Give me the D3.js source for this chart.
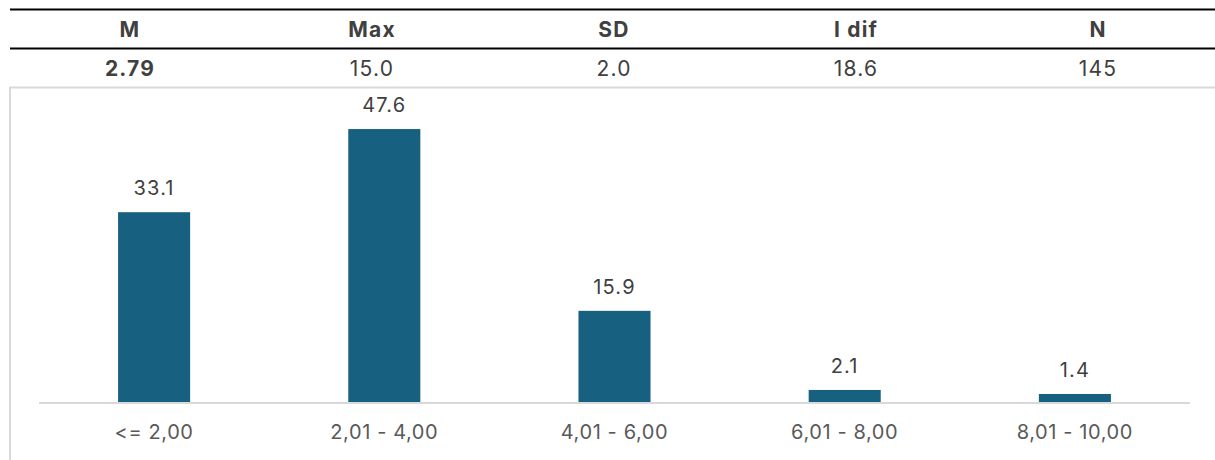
<!DOCTYPE html>
<html>
<head>
<meta charset="utf-8">
<script src="https://cdn.jsdelivr.net/npm/d3@7"></script>
<style>
  html, body { margin: 0; padding: 0; background: #fff; }
  svg { display: block; }
</style>
</head>
<body>
<svg id="chart" width="1215" height="460"></svg>
<script>
const statHeaders = ["M", "Max", "SD", "I dif", "N"];
const statValues = ["2.79", "15.0", "2.0", "18.6", "145"];
const categories = ["<= 2,00", "2,01 - 4,00", "4,01 - 6,00", "6,01 - 8,00", "8,01 - 10,00"];
const values = [33.1, 47.6, 15.9, 2.1, 1.4];

const svg = d3.select("#chart");
const font = "Inter, 'Open Sans', 'Noto Sans', sans-serif";

// Table
const tx = d3.scaleBand().domain(statHeaders).range([9, 1219]);
svg.append("line").attr("x1", 10).attr("x2", 1215).attr("y1", 9.5).attr("y2", 9.5)
  .attr("stroke", "#000").attr("stroke-width", 2);
svg.append("line").attr("x1", 10).attr("x2", 1215).attr("y1", 48.5).attr("y2", 48.5)
  .attr("stroke", "#000").attr("stroke-width", 2);
svg.selectAll("text.hdr").data(statHeaders).join("text")
  .attr("class", "hdr")
  .attr("x", d => tx(d) + tx.bandwidth() / 2)
  .attr("y", 36.5)
  .attr("text-anchor", "middle")
  .attr("font-family", font).attr("font-size", 21).attr("font-weight", 700)
  .attr("letter-spacing", 1.2)
  .attr("fill", "#404040")
  .text(d => d);
svg.selectAll("text.val").data(statValues).join("text")
  .attr("class", "val")
  .attr("x", (d, i) => tx(statHeaders[i]) + tx.bandwidth() / 2)
  .attr("y", 75.5)
  .attr("text-anchor", "middle")
  .attr("font-family", font).attr("font-size", 21)
  .attr("letter-spacing", 1.2)
  .attr("font-weight", (d, i) => i === 0 ? 700 : 400)
  .attr("fill", "#404040")
  .text(d => d);

// Chart frame
svg.append("path").attr("d", "M10,460 V87.5 H1215")
  .attr("fill", "none").attr("stroke", "#d9d9d9").attr("stroke-width", 2);

// Chart
const x = d3.scaleBand().domain(categories).range([39, 1190]).paddingInner(0.687).paddingOuter(0.3435);
const y = d3.scaleLinear().domain([0, 50]).range([402, 115.3]);

svg.selectAll("rect.bar").data(values).join("rect")
  .attr("class", "bar")
  .attr("x", (d, i) => x(categories[i]))
  .attr("width", x.bandwidth())
  .attr("y", d => y(d))
  .attr("height", d => y(0) - y(d))
  .attr("fill", "#17607f");

svg.append("line").attr("x1", 39).attr("x2", 1190).attr("y1", y(0) + 1).attr("y2", y(0) + 1)
  .attr("stroke", "#d9d9d9").attr("stroke-width", 2);

svg.selectAll("text.lbl").data(values).join("text")
  .attr("class", "lbl")
  .attr("x", (d, i) => x(categories[i]) + x.bandwidth() / 2)
  .attr("y", d => y(d) - 17)
  .attr("text-anchor", "middle")
  .attr("font-family", font).attr("font-size", 20)
  .attr("letter-spacing", 1.2)
  .attr("fill", "#404040")
  .text(d => d.toFixed(1));

const xAxis = svg.append("g").attr("transform", `translate(0,${y(0) + 1})`)
  .call(d3.axisBottom(x).tickSize(0).tickPadding(22));
xAxis.select(".domain").remove();
xAxis.selectAll("text")
  .attr("font-family", font).attr("font-size", 20).attr("letter-spacing", 0.6)
  .attr("fill", "#595959");
</script>
</body>
</html>
